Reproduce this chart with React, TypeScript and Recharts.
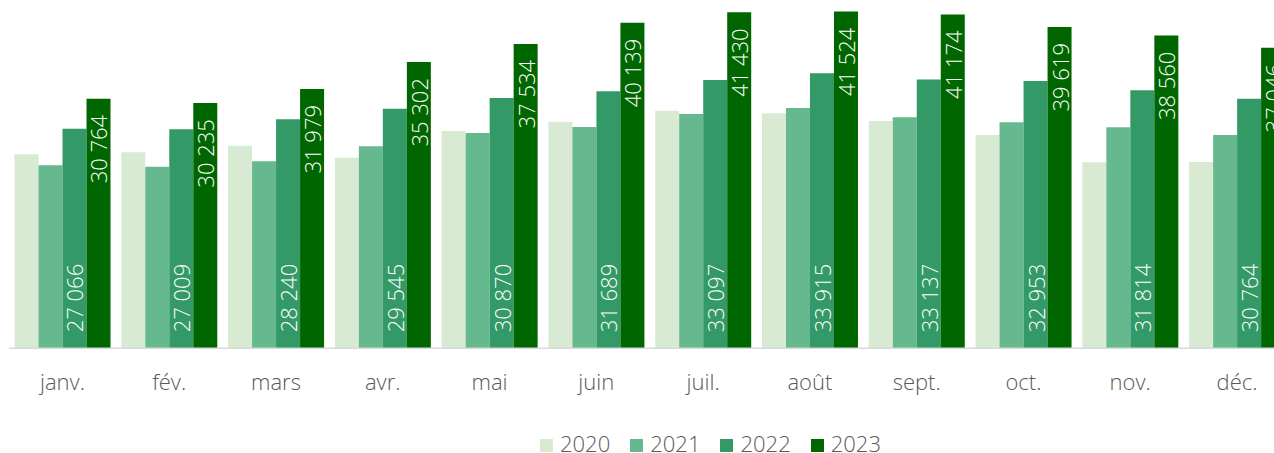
import React from "react";
import { Bar, BarChart, LabelList, Legend, XAxis, YAxis } from "recharts";

// Mois et séries (2022 et 2023 étiquetées, 2020/2021 estimées)
const MONTHS = ["janv.", "fév.", "mars", "avr.", "mai", "juin", "juil.", "août", "sept.", "oct.", "nov.", "déc."];
const V2020 = [23920, 24170, 24990, 23510, 26800, 27940, 29300, 28980, 28030, 26300, 22930, 22970];
const V2021 = [22570, 22400, 23060, 24910, 26550, 27290, 28890, 29630, 28480, 27870, 27250, 26300];
const V2022 = [27066, 27009, 28240, 29545, 30870, 31689, 33097, 33915, 33137, 32953, 31814, 30764];
const V2023 = [30764, 30235, 31979, 35302, 37534, 40139, 41430, 41524, 41174, 39619, 38560, 37046];
const YEARS = ["2020", "2021", "2022", "2023"];

const COLORS = ["#d9ead3", "#66b88e", "#339966", "#006600"];
const FONT = "'Open Sans', 'Noto Sans', sans-serif";
const TEXT = "#595959";
const AXIS = "#d9d9d9";

const data = MONTHS.map((m, i) => ({
  month: m,
  "2020": V2020[i],
  "2021": V2021[i],
  "2022": V2022[i],
  "2023": V2023[i],
}));

// 27066 -> "27 066"
function fmt(v: number): string {
  return String(v).replace(/\B(?=(\d{3})+(?!\d))/g, " ");
}

function makeLabel(atTop: boolean) {
  return (props: any) => {
    const { x, y, width, height, value } = props;
    const cx = Number(x) + Number(width) / 2;
    const by = atTop ? Number(y) + 16 : Number(y) + Number(height) - 16;
    return (
      <text
        x={cx}
        y={by}
        transform={`rotate(-90 ${cx} ${by})`}
        textAnchor={atTop ? "end" : "start"}
        dominantBaseline="central"
        fill="#ffffff"
        fontSize={22}
        fontWeight={300}
        fontFamily={FONT}
      >
        {fmt(Number(value))}
      </text>
    );
  };
}

function LegendContent({ payload }: { payload?: Array<{ value: string; color: string }> }) {
  return (
    <div style={{ display: "flex", gap: 20, fontFamily: FONT, fontSize: 22, fontWeight: 300, lineHeight: "16px", color: TEXT }}>
      {(payload ?? []).map((p) => (
        <div key={p.value} style={{ display: "flex", alignItems: "flex-start" }}>
          <span style={{ width: 13, height: 13, marginTop: 3.8, marginRight: 7, background: p.color }} />
          {p.value}
        </div>
      ))}
    </div>
  );
}

export default function App() {
  return (
    <div style={{ position: "absolute", left: 0, top: 0, width: 1274, height: 453, overflow: "hidden", background: "#fff" }}>
      <BarChart
        width={1300}
        height={453}
        data={data}
        margin={{ top: 7.7, right: 9.6, left: 9, bottom: 44.7 }}
        barCategoryGap={5.5}
        barGap={0}
      >
        <XAxis
          dataKey="month"
          height={60}
          interval={0}
          tickLine={false}
          tickMargin={20}
          axisLine={{ stroke: AXIS, strokeWidth: 1.5 }}
          tick={{ fill: TEXT, fontSize: 22, fontWeight: 300, fontFamily: FONT }}
        />
        <YAxis hide domain={[0, 42000]} />
        <Legend
          layout="horizontal"
          align="center"
          verticalAlign="middle"
          wrapperStyle={{ top: 435.2, left: 540, width: "auto", height: "auto" }}
          content={<LegendContent />}
        />
        {YEARS.map((yr, i) => (
          <Bar key={yr} dataKey={yr} fill={COLORS[i]} isAnimationActive={false}>
            {yr === "2022" && <LabelList dataKey={yr} content={makeLabel(false)} />}
            {yr === "2023" && <LabelList dataKey={yr} content={makeLabel(true)} />}
          </Bar>
        ))}
      </BarChart>
    </div>
  );
}
